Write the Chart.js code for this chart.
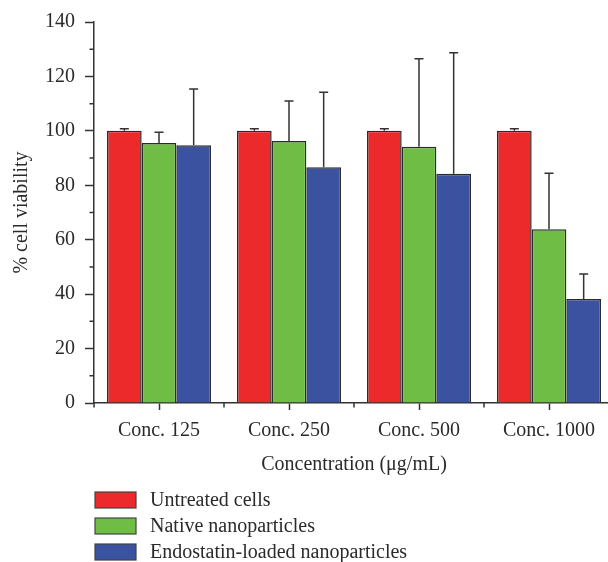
<!DOCTYPE html>
<html>
<head>
<meta charset="utf-8">
<script src="https://cdn.jsdelivr.net/npm/chart.js@4"></script>
<style>
  html, body { margin: 0; padding: 0; background: #fff; overflow: hidden; }
  #wrap { width: 616px; height: 562px; }
</style>
</head>
<body>
<div id="wrap"><canvas id="c" width="616" height="562"></canvas></div>
<script>
// Cell viability per concentration: mean values and upper SD
const categories = ['Conc. 125', 'Conc. 250', 'Conc. 500', 'Conc. 1000'];
const seriesNames = ['Untreated cells', 'Native nanoparticles', 'Endostatin-loaded nanoparticles'];
const untreated = [100, 100, 100, 100];
const untreatedSD = [0.8, 0.8, 0.8, 0.8];
const nativeNP = [95.5, 96.3, 94.2, 63.8];
const nativeSD = [4.0, 14.7, 32.3, 20.6];
const endostatinNP = [94.7, 86.6, 84.2, 38.2];
const endostatinSD = [20.7, 27.6, 44.5, 9.2];
const yTicks = [0, 20, 40, 60, 80, 100, 120, 140];

const FONT = "'Liberation Serif', 'DejaVu Serif', serif";
const INK = '#2a2a2a';
const colors = ['#ec2a2b', '#6fbd44', '#3a529f'];

// Upward error bars with caps
const errorBars = {
  id: 'errorBars',
  afterDatasetsDraw(chart) {
    const ctx = chart.ctx;
    const y = chart.scales.y;
    ctx.save();
    ctx.strokeStyle = '#333';
    ctx.lineWidth = 1.5;
    chart.data.datasets.forEach((ds, i) => {
      const meta = chart.getDatasetMeta(i);
      meta.data.forEach((bar, j) => {
        const v = ds.data[j], e = ds.sd[j];
        const y0 = y.getPixelForValue(v);
        const y1 = y.getPixelForValue(v + e);
        ctx.beginPath();
        ctx.moveTo(bar.x, y0);
        ctx.lineTo(bar.x, y1);
        ctx.moveTo(bar.x - 4.5, y1);
        ctx.lineTo(bar.x + 4.5, y1);
        ctx.stroke();
      });
    });
    ctx.restore();
  }
};

// Minor ticks on both axes
const minorTicks = {
  id: 'minorTicks',
  afterDraw(chart) {
    const ctx = chart.ctx;
    const { x, y } = chart.scales;
    ctx.save();
    ctx.strokeStyle = '#333';
    ctx.lineWidth = 1.5;
    ctx.beginPath();
    for (let v = 10; v < 140; v += 20) {
      const py = y.getPixelForValue(v);
      ctx.moveTo(y.right - 4.5, py);
      ctx.lineTo(y.right, py);
    }
    for (let k = 0; k <= categories.length; k++) {
      const px = x.getPixelForValue(k - 0.5);
      ctx.moveTo(px, x.top);
      ctx.lineTo(px, x.top + 4.5);
    }
    ctx.stroke();
    ctx.restore();
  }
};

// Vertical legend below the axes
const stackedLegend = {
  id: 'stackedLegend',
  afterDraw(chart) {
    const ctx = chart.ctx;
    ctx.save();
    ctx.font = '20px ' + FONT;
    ctx.textBaseline = 'middle';
    ctx.textAlign = 'left';
    chart.data.datasets.forEach((ds, i) => {
      const cy = 500 + i * 26;
      ctx.fillStyle = ds.backgroundColor;
      ctx.fillRect(95, cy - 8, 41, 16);
      ctx.strokeStyle = '#444';
      ctx.lineWidth = 1.2;
      ctx.strokeRect(95, cy - 8, 41, 16);
      ctx.fillStyle = INK;
      ctx.fillText(ds.label, 150, cy + 1);
    });
    ctx.restore();
  }
};

const datasets = [
  { label: seriesNames[0], data: untreated, sd: untreatedSD },
  { label: seriesNames[1], data: nativeNP, sd: nativeSD },
  { label: seriesNames[2], data: endostatinNP, sd: endostatinSD }
].map((d, i) => Object.assign(d, {
  backgroundColor: colors[i],
  borderColor: '#2b2b2b',
  borderWidth: 1.5,
  borderSkipped: 'bottom',
  categoryPercentage: 0.8,
  barPercentage: 1.0
}));

new Chart(document.getElementById('c'), {
  type: 'bar',
  data: { labels: categories, datasets },
  options: {
    responsive: false,
    animation: false,
    layout: { padding: { top: 20, right: 2, bottom: 84, left: 0 } },
    plugins: { legend: { display: false }, tooltip: { enabled: false } },
    scales: {
      x: {
        offset: true,
        grid: { display: true, drawOnChartArea: false, offset: false, tickLength: 7, tickColor: '#333', tickWidth: 1.5 },
        border: { display: true, color: '#333', width: 1.5 },
        ticks: { color: INK, font: { family: FONT, size: 20 }, padding: 9, maxRotation: 0 },
        title: { display: true, text: 'Concentration (\u03BCg/mL)', color: INK, font: { family: FONT, size: 20 }, padding: { top: 0, bottom: 1 } },
        afterFit(s) { s.height = 75; }
      },
      y: {
        min: 0, max: 140,
        afterBuildTicks(s) { s.ticks = yTicks.map(v => ({ value: v })); },
        grid: { display: true, drawOnChartArea: false, tickLength: 9, tickColor: '#333', tickWidth: 1.5 },
        border: { display: true, color: '#333', width: 1.5 },
        ticks: { color: INK, font: { family: FONT, size: 20 }, padding: 10 },
        title: { display: true, text: '% cell viability', color: INK, font: { family: FONT, size: 20 }, padding: { top: 10, bottom: 0 } },
        afterFit(s) { s.width = 94; }
      }
    }
  },
  plugins: [errorBars, minorTicks, stackedLegend]
});
</script>
</body>
</html>
